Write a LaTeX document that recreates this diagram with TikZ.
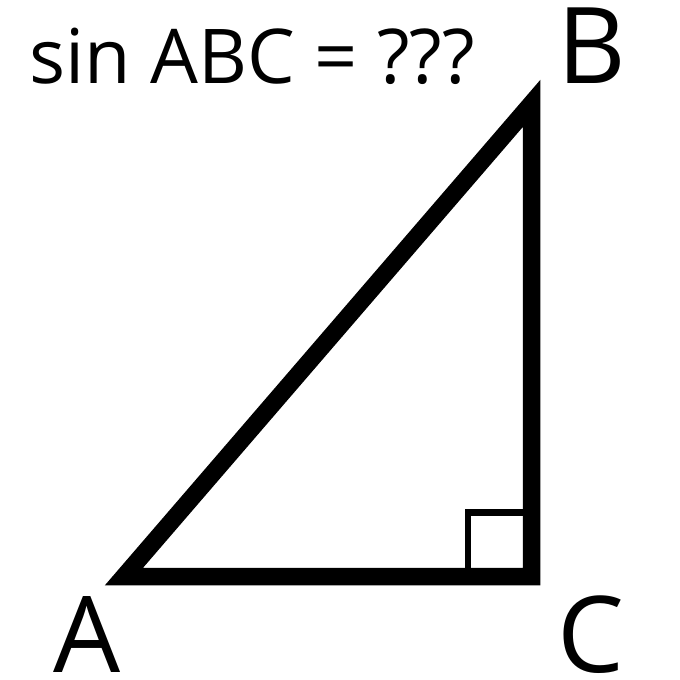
\documentclass[tikz,border=0pt]{standalone}
\usepackage{fontspec,tikz}
\setmainfont{Open Sans}

\begin{document}
\begin{tikzpicture}[x=1pt,y=-1pt]
\path[use as bounding box] (0,0) rectangle (680.0,680.0);
\coordinate (A) at (124,576.5);
\coordinate (C) at (531.5,576.5);
\coordinate (B) at (531.5,103.5);
\draw[line width=6.5pt] (468,512.5) rectangle (C);
\draw[line width=17.5pt,miter limit=10] (A) -- (C) -- (B) -- cycle;
\node (title) [anchor=base west,inner sep=0pt,font=\fontsize{75.6}{90.7}\selectfont ] at (29,83) {sin ABC = ???};
\node (labB) [anchor=base west,inner sep=0pt,font=\fontsize{106.0}{127.2}\selectfont ] at (557,83) {B};
\node (labA) [anchor=base west,inner sep=0pt,font=\fontsize{106.0}{127.2}\selectfont ] at (53,672) {A};
\node (labC) [anchor=base west,inner sep=0pt,font=\fontsize{106.0}{127.2}\selectfont ] at (557,672) {C};
\end{tikzpicture}
\end{document}
